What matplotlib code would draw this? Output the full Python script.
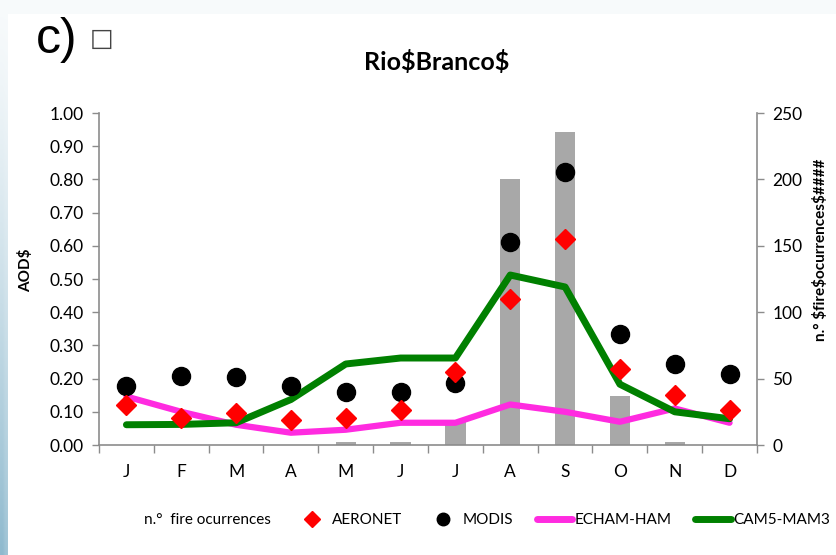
import numpy as np
import matplotlib.pyplot as plt
from matplotlib.lines import Line2D
from matplotlib.patches import Patch, Rectangle
import warnings
warnings.filterwarnings('ignore')

plt.rcParams['font.family'] = ['Lato', 'DejaVu Sans']

# monthly data, Rio Branco
months = ['J', 'F', 'M', 'A', 'M', 'J', 'J', 'A', 'S', 'O', 'N', 'D']
fires = [0, 0, 0, 0, 2, 2, 18, 200, 236, 37, 2, 0]
aeronet = [0.12, 0.08, 0.095, 0.075, 0.08, 0.105, 0.22, 0.44, 0.62, 0.23, 0.15, 0.105]
modis = [0.177, 0.207, 0.204, 0.177, 0.159, 0.159, 0.186, 0.61, 0.823, 0.335, 0.244, 0.213]
echam = [0.146, 0.10, 0.061, 0.037, 0.046, 0.067, 0.067, 0.122, 0.10, 0.07, 0.11, 0.067]
cam5 = [0.061, 0.062, 0.067, 0.137, 0.244, 0.262, 0.262, 0.512, 0.476, 0.183, 0.10, 0.079]

W, H = 837, 555
fig = plt.figure(figsize=(W / 100, H / 100), dpi=100)

# background: pale band on top, bluish stripe on the left
bg = fig.add_axes([0, 0, 1, 1], zorder=-10)
xx, yy = np.meshgrid(np.linspace(0, 1, 200), np.linspace(0, 1, 200))
wgt = (yy ** 1.3) * np.clip(1 - xx * W / 30.0, 0, 1) * 0.75 + 0.05
c0 = np.array([1.0, 1.0, 1.0])
c1 = np.array([0.45, 0.66, 0.76])
img = c0[None, None, :] * (1 - wgt[..., None]) + c1[None, None, :] * wgt[..., None]
bg.imshow(img, extent=[0, 1, 1, 0], aspect='auto')
bg.add_patch(Rectangle((8 / W, 14 / H), 1, 1, facecolor='white', edgecolor='none'))
bg.set_xlim(0, 1)
bg.set_ylim(1, 0)
bg.axis('off')

ax = fig.add_axes([99 / W, 1 - 445 / H, (757 - 99) / W, (445 - 113) / H])
ax2 = ax.twinx()
ax.set_zorder(2)
ax.patch.set_visible(False)
ax2.set_zorder(1)

x = np.arange(len(months))
grey = '#a8a8a8'
ax2.bar(x, fires, width=0.37, color=grey, edgecolor='none')
ax2.set_ylim(0, 250)
ax2.set_yticks(np.arange(0, 251, 50))
ax2.set_yticklabels([str(v) for v in range(0, 251, 50)])

ax.plot(x, echam, color='#ff2be0', lw=4.5, solid_capstyle='round', zorder=3)
ax.plot(x, cam5, color='#008000', lw=5.0, solid_capstyle='round', zorder=4)
ax.plot(x, modis, 'o', color='black', ms=13, zorder=5, ls='none')
ax.plot(x, aeronet, 'D', color='#ff0000', ms=10, zorder=6, ls='none')

ax.set_xlim(-0.5, 11.5)
ax.set_ylim(0, 1.0)
ax.set_yticks(np.arange(0, 1.01, 0.1))
ax.set_yticklabels(['%.2f' % v for v in np.arange(0, 1.01, 0.1)])
ax.set_xticks(x)
ax.set_xticklabels(months)
ax.set_xticks(np.arange(-0.5, 12, 1), minor=True)
ax.tick_params(axis='x', which='major', length=0, pad=14, labelsize=12.5)
ax.tick_params(axis='x', which='minor', length=6, width=1, color='#8c8c8c', direction='out')
ax.tick_params(axis='y', length=5, width=1, color='#8c8c8c', labelsize=12.5, pad=6)
ax2.tick_params(axis='y', length=5, width=1, color='#8c8c8c', labelsize=12.5, pad=6)

for a in (ax, ax2):
    for s in a.spines.values():
        s.set_color('#8c8c8c')
        s.set_linewidth(1.2)
    a.spines['top'].set_visible(False)
ax.spines['right'].set_visible(False)
ax2.spines['left'].set_visible(False)
ax2.spines['bottom'].set_visible(False)

fig.text(26 / W, 1 - 270 / H, 'AOD\\$', rotation=90, fontsize=11, fontweight='bold',
         ha='center', va='center')
fig.text(821 / W, 1 - 250 / H, 'n.° \\$fire\\$ocurrences\\$####', rotation=90, fontsize=11,
         fontweight='bold', ha='center', va='center')
fig.text(437 / W, 1 - 62 / H, 'Rio\\$Branco\\$', fontsize=18, fontweight='bold',
         ha='center', va='center')
fig.text(36 / W, 1 - 40 / H, 'c)', fontsize=36, ha='left', va='center',
         family=['Liberation Sans', 'DejaVu Sans'])
fig.text(90 / W, 1 - 39 / H, '\u25a1', fontsize=18, ha='left', va='center',
         family=['DejaVu Sans'], color='#444444')

handles = [
    Patch(facecolor='none', edgecolor='none'),
    Line2D([], [], marker='D', color='#ff0000', ls='none', ms=8),
    Line2D([], [], marker='o', color='black', ls='none', ms=9),
    Line2D([], [], color='#ff2be0', lw=5, solid_capstyle='round'),
    Line2D([], [], color='#008000', lw=5, solid_capstyle='round'),
]
labels = ['n.°  fire ocurrences', 'AERONET', 'MODIS', 'ECHAM-HAM', 'CAM5-MAM3']
fig.legend(handles, labels, loc='center', bbox_to_anchor=(468 / W, 1 - 520 / H), ncol=5,
           frameon=False, fontsize=11, handlelength=2.3, handletextpad=0.15,
           columnspacing=1.55)

fig.savefig('out.png', dpi=100)
